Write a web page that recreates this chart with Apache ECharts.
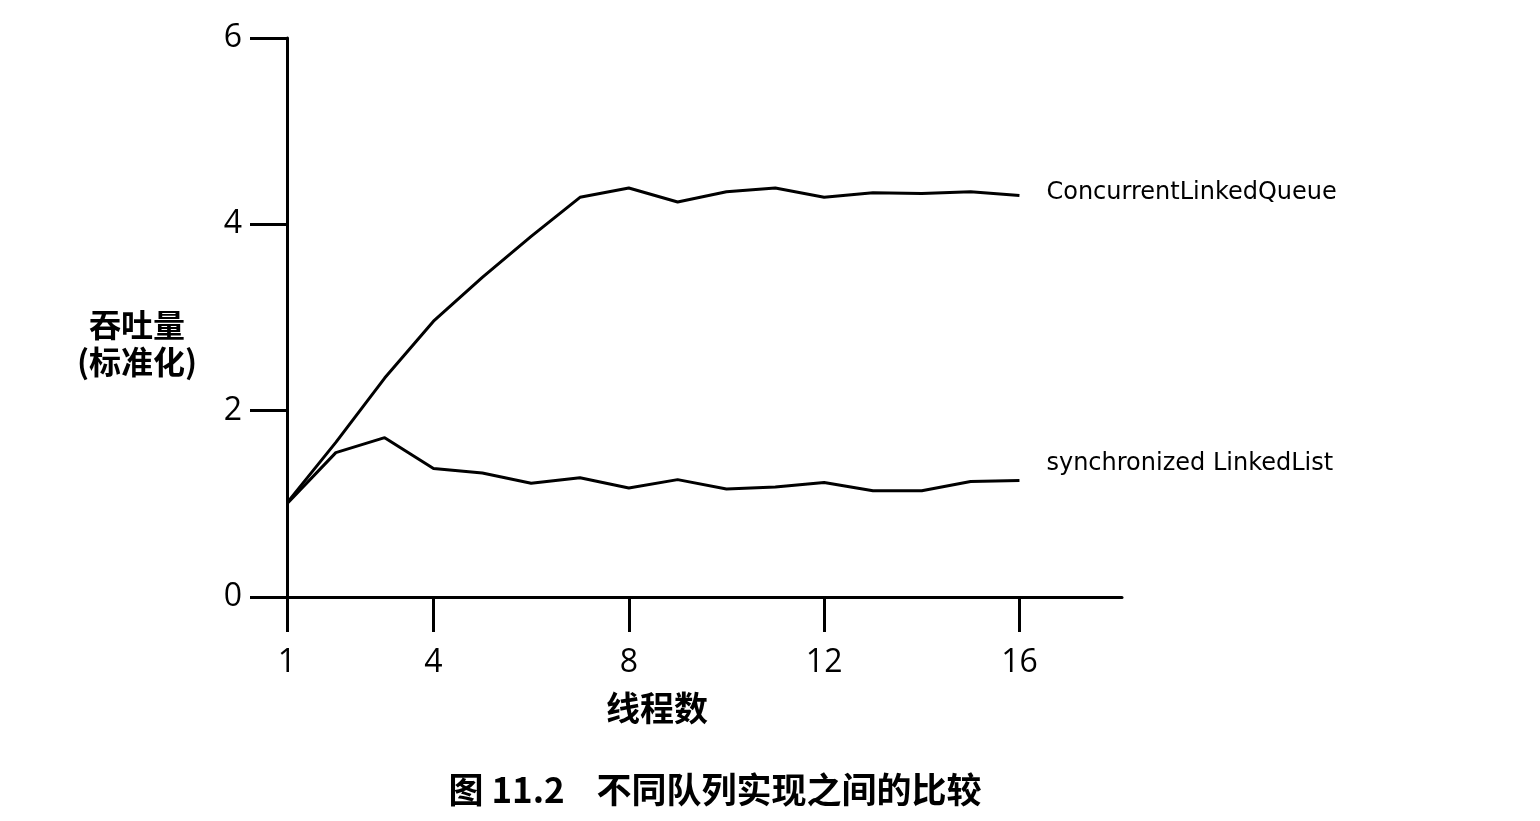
<!DOCTYPE html>
<html>
<head>
<meta charset="utf-8">
<script src="https://cdn.jsdelivr.net/npm/echarts@6/dist/echarts.min.js"></script>
<style>
    html, body { margin: 0; padding: 0; background: #fff; }
    #chart { width: 1540px; height: 821px; }
</style>
</head>
<body>
<div id="chart"></div>
<script>
const chart = echarts.init(document.getElementById("chart"));

// thread counts on the x axis
const threads = [1, 2, 3, 4, 5, 6, 7, 8, 9, 10, 11, 12, 13, 14, 15, 16];
const xTicks = [1, 4, 8, 12, 16];

// normalized throughput
const clqValues = [1.01, 1.66, 2.35, 2.96, 3.43, 3.87, 4.29, 4.39, 4.24, 4.35, 4.39, 4.29, 4.34, 4.33, 4.35, 4.31];
const syncValues = [1.0, 1.55, 1.71, 1.38, 1.33, 1.22, 1.28, 1.17, 1.26, 1.16, 1.18, 1.23, 1.14, 1.14, 1.24, 1.25];

const seriesNames = ["ConcurrentLinkedQueue", "synchronized LinkedList"];

const cjkFont = "'Noto Sans CJK SC', sans-serif";
const numFont = "'Open Sans', 'DejaVu Sans', sans-serif";

function pairs(values) {
    return threads.map((t, i) => [t, values[i]]);
}

function lineSeries(name, values, labelOffset) {
    return {
        name: name,
        type: "line",
        data: pairs(values),
        showSymbol: false,
        silent: true,
        lineStyle: { color: "#000", width: 3 },
        endLabel: {
            show: true,
            formatter: name,
            distance: 27,
            offset: labelOffset,
            color: "#000",
            fontFamily: "'DejaVu Sans', sans-serif",
            fontSize: 24
        }
    };
}

const option = {
    backgroundColor: "#fff",
    animation: false,
    grid: {
        left: 287,
        right: 418,
        top: 38,
        bottom: 224,
        containLabel: false
    },
    xAxis: {
        type: "value",
        min: 1,
        max: 18.1,
        splitLine: { show: false },
        axisLine: { lineStyle: { color: "#000", width: 3 } },
        axisTick: {
            customValues: xTicks,
            length: 35,
            lineStyle: { color: "#000", width: 3 }
        },
        axisLabel: {
            customValues: xTicks,
            margin: 50,
            color: "#000",
            fontFamily: numFont,
            fontSize: 32
        }
    },
    yAxis: {
        type: "value",
        min: 0,
        max: 6,
        interval: 2,
        splitLine: { show: false },
        axisLine: { lineStyle: { color: "#000", width: 3 } },
        axisTick: {
            length: 37,
            lineStyle: { color: "#000", width: 3 }
        },
        axisLabel: {
            margin: 45,
            color: "#000",
            fontFamily: numFont,
            fontSize: 32
        }
    },
    graphic: [
        {
            type: "text",
            x: 137,
            y: 343,
            style: {
                text: "吞吐量\n(标准化)",
                align: "center",
                verticalAlign: "middle",
                lineHeight: 37,
                fill: "#000",
                font: "bold 32px " + cjkFont
            }
        },
        {
            type: "text",
            x: 657,
            y: 708,
            style: {
                text: "线程数",
                align: "center",
                verticalAlign: "middle",
                fill: "#000",
                font: "bold 34px " + cjkFont
            }
        },
        {
            type: "text",
            x: 715,
            y: 790,
            style: {
                text: "图 11.2    不同队列实现之间的比较",
                align: "center",
                verticalAlign: "middle",
                fill: "#000",
                font: "bold 35px " + cjkFont
            }
        }
    ],
    series: [
        lineSeries(seriesNames[0], clqValues, [0, -3]),
        lineSeries(seriesNames[1], syncValues, [0, -17])
    ]
};

chart.setOption(option);
window.addEventListener("resize", () => chart.resize());
</script>
</body>
</html>
